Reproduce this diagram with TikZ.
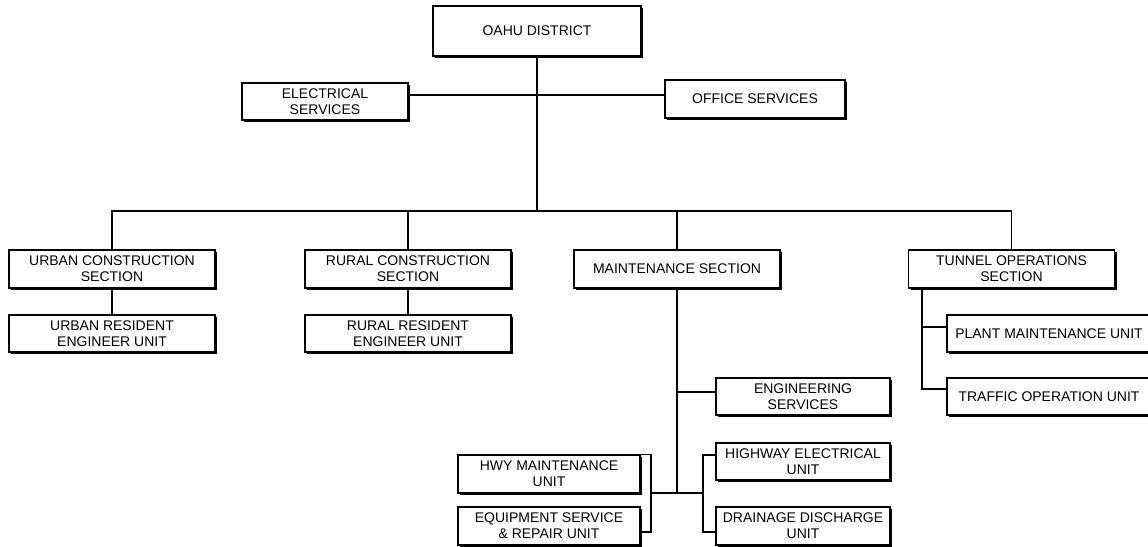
\documentclass[tikz,border=0pt]{standalone}
\usepackage{fontspec}
\setmainfont{Liberation Sans}
\usetikzlibrary{shadows,calc}

\begin{document}
\begin{tikzpicture}[x=1pt,y=-1pt,
  box/.style={draw=black, line width=1.2pt, fill=white, inner sep=0pt, align=center,
    font=\fontsize{14}{15.7}\selectfont,
    drop shadow={shadow xshift=2pt, shadow yshift=-2pt, fill=black, opacity=1}},
  wide/.style={box, minimum width=206pt, minimum height=38pt},
  link/.style={line width=1.2pt, draw=black}]
\useasboundingbox (0,0) rectangle (1148,546);

% district head and staff offices
\node[box, minimum width=208pt, minimum height=50pt] (oahu) at (537,31) {OAHU DISTRICT};
\node[box, minimum width=166pt, minimum height=37pt] (elec) at (325,101.5) {ELECTRICAL\\SERVICES};
\node[box, minimum width=180pt, minimum height=38pt] (office) at (755,99) {OFFICE SERVICES};

% sections
\node[wide] (urban) at (112,269) {URBAN CONSTRUCTION\\SECTION};
\node[wide] (rural) at (408,269) {RURAL CONSTRUCTION\\SECTION};
\node[wide] (maint) at (677,269) {MAINTENANCE SECTION};
\node[wide] (tunnel) at (1011.5,269) {TUNNEL OPERATIONS\\SECTION};

% resident engineer units
\node[box, minimum width=206pt, minimum height=37pt] (urbres) at (112,333.5) {URBAN RESIDENT\\ENGINEER UNIT};
\node[box, minimum width=206pt, minimum height=37pt] (rurres) at (408,333.5) {RURAL RESIDENT\\ENGINEER UNIT};

% tunnel units
\node[box, minimum width=204pt, minimum height=37pt] (plant) at (1049,333.5) {PLANT MAINTENANCE UNIT};
\node[box, minimum width=204pt, minimum height=37pt] (traffic) at (1049,396.5) {TRAFFIC OPERATION UNIT};

% maintenance units
\node[box, minimum width=174pt, minimum height=37pt] (eng) at (803,396.5) {ENGINEERING\\SERVICES};
\node[box, minimum width=174pt, minimum height=37pt] (hwyelec) at (803,461.5) {HIGHWAY ELECTRICAL\\UNIT};
\node[box, minimum width=174pt, minimum height=38pt] (drain) at (803,526) {DRAINAGE DISCHARGE\\UNIT};
\node[box, minimum width=182pt, minimum height=38pt] (hwy) at (549,474) {HWY MAINTENANCE\\UNIT};
\node[box, minimum width=182pt, minimum height=38pt] (equip) at (549,526) {EQUIPMENT SERVICE\\\& REPAIR UNIT};

% junction points
\coordinate (staff) at (537,95);
\coordinate (bus) at (537,211);
\coordinate (eA) at (677,392);
\coordinate (mjoin) at (677,493);
\coordinate (lbBot) at (651,532);
\coordinate (rbTop) at (703,455);
\coordinate (rbBot) at (703,532);
\coordinate (tA) at (922,327);
\coordinate (tB) at (922,389);

% district trunk and section bus
\draw[link] (oahu.south) -- (bus);
\draw[link] (elec.east |- staff) -- (office.west |- staff);
\draw[link] (urban.north) -- (urban.north |- bus) -- (tunnel.north |- bus) -- (tunnel.north);
\draw[link] (rural.north) -- (rural.north |- bus);
\draw[link] (maint.north) -- (maint.north |- bus);

% resident engineer links
\draw[link] (urban.south) -- (urbres.north);
\draw[link] (rural.south) -- (rurres.north);

% tunnel operations links
\draw[link] (tunnel.south -| tA) -- (tB) -- (tB -| traffic.west);
\draw[link] (tA) -- (tA -| plant.west);

% maintenance links
\draw[link] (maint.south) -- (mjoin);
\draw[link] (eA) -- (eA -| eng.west);
\draw[link] (hwy.north east) -| (lbBot) -- (lbBot -| equip.east);
\draw[link] (lbBot |- mjoin) -- (rbTop |- mjoin);
\draw[link] (rbTop -| hwyelec.west) -- (rbTop) -- (rbBot) -- (rbBot -| drain.west);
\end{tikzpicture}
\end{document}
